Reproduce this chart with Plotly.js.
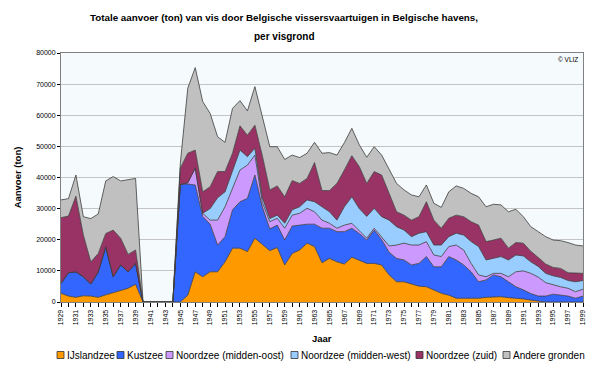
<!DOCTYPE html>
<html><head><meta charset="utf-8">
<script src="https://cdn.plot.ly/plotly-3.0.1.min.js"></script>
<style>html,body{margin:0;padding:0;background:#fff}#chart{width:600px;height:368px}</style>
</head><body><div id="chart"></div>
<script>
const years = [1929,1930,1931,1932,1933,1934,1935,1936,1937,1938,1939,1940,1941,1942,1943,1944,
 1945,1946,1947,1948,1949,1950,1951,1952,1953,1954,1955,1956,1957,1958,1959,1960,1961,1962,1963,1964,
 1965,1966,1967,1968,1969,1970,1971,1972,1973,1974,1975,1976,1977,1978,1979,1980,1981,1982,1983,1984,
 1985,1986,1987,1988,1989,1990,1991,1992,1993,1994,1995,1996,1997,1998,1999];

const ijslandzee = [2800,1900,1500,2000,1900,1500,2300,3000,3600,4400,5700, 0,0,0,0,0,
 0,2200,9700,8100,9700,9700,12900,17300,17300,16200,
 20500,18500,16500,17500,11900,15600,16700,18900,17800,12600,
 14000,12900,12200,14400,13500,12400,12400,11900,8700,6500,
 6500,5800,5100,4900,3900,2800,2200,1200,1200,1200,
 1200,1500,1700,1700,1400,1300,1000,600,200,0,
 0,0,0,0,0];
const kustzee = [3200,7500,8200,6100,3900,8200,15500,5100,8300,5300,6700, 0,0,0,0,0,
 37800,35700,27900,19400,15300,8600,8100,12300,14900,17100,
 20300,12000,7000,7200,8000,8800,8000,6100,7200,11100,
 9700,9700,10400,9300,8500,7500,10700,8100,7300,7500,
 7000,6100,7300,9700,7400,8500,12400,12300,10700,8500,
 5300,5600,7000,6400,5100,3600,2900,2100,1700,1900,
 2500,2200,1900,1200,1900];
const middenOost = [0,0,0,0,0,0,0,0,0,0,0, 0,0,0,0,0,
 0,400,5400,1000,1300,8000,9600,6900,10200,10700,
 6400,1500,2300,2200,3800,3500,3800,5100,4000,2600,
 1600,1100,2100,1600,1000,600,600,1000,2000,4300,
 5400,6400,5900,4800,3800,3300,3200,4800,4800,2700,
 2200,1000,500,1100,1600,4800,6100,6500,6100,4300,
 3000,2700,2500,2100,2200];
const middenWest = [0,0,0,0,0,0,0,0,0,0,0, 0,0,0,0,0,
 0,0,0,0,3700,7200,4800,5400,6400,2700,
 2200,1500,1000,1000,1600,1700,2100,2700,3200,4300,
 3700,2600,5900,8500,7000,7000,6400,6400,8300,5900,
 4200,2700,3800,3200,3200,3700,3200,3800,4800,7000,
 9100,5400,4800,5400,5400,5400,4800,3700,3400,3000,
 2900,3000,2500,3200,2800];
const zuid = [21100,18200,24300,13400,7100,5900,4200,15000,8600,5600,4300, 0,0,0,0,0,
 5200,9500,5800,6900,7000,8400,6500,5900,7800,6900,
 7400,13500,9200,9400,8500,9400,7500,6900,12600,5200,
 6800,11800,11800,13200,13500,10600,11800,13400,8600,4800,
 4800,5300,5300,9600,8000,5400,5900,5800,5900,6400,
 6900,5900,5900,5900,3800,4000,4100,3400,2900,3000,
 2700,2900,2500,2700,2300];
const andere = [5700,5600,6800,5900,13900,12700,16900,17200,18400,23900,23000, 0,0,0,0,0,
 1500,20900,26500,29000,23600,11200,9400,14400,8100,7800,
 12400,13000,13900,12600,12000,8200,8300,8100,6500,12000,
 12200,9100,8800,8800,7000,8400,8000,6400,7500,9100,
 8100,8100,6400,5400,5400,6700,8500,9400,9100,9100,
 9100,11200,11500,10700,11700,10700,8500,7900,8300,8800,
 8800,8900,9700,9100,8800];

const seriesNames = ['IJslandzee','Kustzee','Noordzee (midden-oost)','Noordzee (midden-west)','Noordzee (zuid)','Andere gronden'];
const seriesData = [ijslandzee, kustzee, middenOost, middenWest, zuid, andere];
const seriesColors = ['#FF9900','#3366FF','#CC99FF','#99CCFF','#993366','#C0C0C0'];

const tickYears = [1929,1931,1933,1935,1937,1939,1941,1943,1945,1947,1949,1951,1953,1955,1957,1959,1961,1963,1965,1967,1969,1971,1973,1975,1977,1979,1981,1983,1985,1987,1989,1991,1993,1995,1997,1999];

const FONT = 'Liberation Sans, Arial, sans-serif';

// plot-area geometry (px) used to place the hand-made legend and titles
const PL = 61, PW = 522, PT = 53, PH = 249;
const legendSquareX = [57, 117, 166, 291, 416, 503];
const legendY = 355;
const sq = 7;
const px2x = p => (p - PL) / PW;
const px2y = p => (PT + PH - p) / PH;

const traces = seriesData.map((d, i) => ({
  type: 'scatter', mode: 'lines', x: years, y: d, name: seriesNames[i],
  stackgroup: 'one', fillcolor: seriesColors[i],
  line: {color: '#3c3c3c', width: 0.8},
  hoverinfo: 'skip', showlegend: false
}));

const shapes = [], annotations = [];
seriesNames.forEach((n, i) => {
  const x0 = legendSquareX[i];
  shapes.push({type: 'rect', xref: 'paper', yref: 'paper',
    x0: px2x(x0), x1: px2x(x0 + sq), y0: px2y(legendY + sq / 2), y1: px2y(legendY - sq / 2),
    fillcolor: seriesColors[i], line: {color: '#333333', width: 0.8}});
  annotations.push({text: n, xref: 'paper', yref: 'paper', x: px2x(x0 + sq + 0.5), y: px2y(legendY),
    xanchor: 'left', yanchor: 'middle', showarrow: false, font: {size: 10, color: '#000'}});
});
annotations.push({text: '<b>per visgrond</b>', xref: 'paper', yref: 'paper', x: px2x(284), y: px2y(36),
  xanchor: 'center', yanchor: 'middle', showarrow: false, font: {family: FONT, size: 10, color: '#000'}});
annotations.push({text: '<b>Jaar</b>', xref: 'paper', yref: 'paper', x: px2x(322), y: px2y(338),
  xanchor: 'center', yanchor: 'middle', showarrow: false, font: {family: FONT, size: 9.5, color: '#000'}});
annotations.push({text: '© VLIZ', xref: 'paper', yref: 'paper', x: 0.995, y: 0.995, xanchor: 'right', yanchor: 'top',
  showarrow: false, font: {size: 6.5, color: '#000'}});

const layout = {
  width: 600, height: 368,
  margin: {l: PL, r: 600 - PL - PW, t: PT, b: 368 - PT - PH},
  paper_bgcolor: '#ffffff', plot_bgcolor: '#f5fbfd',
  font: {family: FONT, size: 7, color: '#000'},
  title: {text: '<b>Totale aanvoer (ton) van vis door Belgische vissersvaartuigen in Belgische havens,</b>',
    x: 284 / 600, xref: 'container', xanchor: 'center', y: 1 - 18 / 368, yref: 'container', yanchor: 'middle',
    font: {family: FONT, size: 9.8, color: '#000'}},
  xaxis: {
    range: [1929, 1999], tickvals: tickYears, ticktext: tickYears.map(String), tickangle: -90,
    ticks: 'outside', ticklen: 4, tickcolor: '#000', tickfont: {size: 7},
    minor: {dtick: 1, tick0: 1929, ticks: 'outside', ticklen: 4, tickcolor: '#000'},
    showgrid: false, zeroline: false, showline: true, linecolor: '#808080', mirror: true
  },
  yaxis: {
    range: [0, 80000], dtick: 10000, tickformat: 'd', ticks: 'outside', ticklen: 3, tickcolor: '#000',
    tickfont: {size: 7}, showgrid: true, gridcolor: '#c4c4c4', gridwidth: 1,
    zeroline: false, showline: true, linecolor: '#808080', mirror: true,
    title: {text: '<b>Aanvoer (ton)</b>', font: {size: 9.5}, standoff: 12}
  },
  showlegend: false,
  shapes: shapes,
  annotations: annotations
};

Plotly.newPlot('chart', traces, layout, {displayModeBar: false, staticPlot: true});
</script></body></html>
